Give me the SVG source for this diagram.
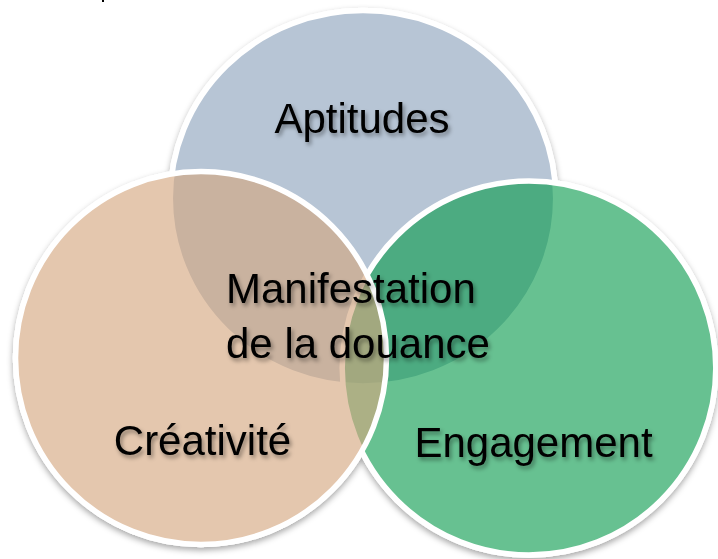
<svg xmlns="http://www.w3.org/2000/svg" xmlns:xlink="http://www.w3.org/1999/xlink" width="718" height="559" viewBox="0 0 718 559">
  <defs>
    <style>
      .ring { stroke: #ffffff; stroke-width: 5.5; }
      .under { fill: #ffffff; stroke: #ffffff; stroke-width: 5.5; }
      .top { fill: #b7c5d5; }
      .right { fill: rgb(10,155,78); fill-opacity: 0.62; }
      .left { fill: rgb(212,166,126); fill-opacity: 0.63; }
      .lbl { font-family: "Liberation Sans", Arial, sans-serif; font-size: 42px; fill: #000000; filter: url(#txtShadow); }
    </style>
    <filter id="ringShadow" x="-10%" y="-10%" width="120%" height="120%">
      <feDropShadow dx="0" dy="3" stdDeviation="3" flood-color="#000000" flood-opacity="0.35"/>
    </filter>
    <filter id="txtShadow" x="-10%" y="-20%" width="120%" height="160%">
      <feDropShadow dx="2" dy="3" stdDeviation="2" flood-color="#000000" flood-opacity="0.4"/>
    </filter>
  </defs>

  <rect x="0" y="0" width="718" height="559" fill="#ffffff"/>
  <rect x="102" y="0" width="2" height="2" fill="#000000"/>

  <!-- outer shadow of the union of the circles -->
  <g id="shadows" filter="url(#ringShadow)">
    <ellipse class="under" cx="363" cy="198.3" rx="192.7" ry="187.7"/>
    <ellipse class="under" cx="529" cy="368" rx="186.8" ry="187"/>
    <ellipse class="under" cx="201" cy="358" rx="185.5" ry="186.5"/>
  </g>

  <g id="aptitudes">
    <ellipse class="ring top" cx="363" cy="198.3" rx="192.7" ry="187.7"/>
    <text class="lbl" x="362" y="133" text-anchor="middle">Aptitudes</text>
  </g>

  <g id="engagement">
    <ellipse class="ring right" cx="529" cy="368" rx="186.8" ry="187"/>
    <text class="lbl" x="533.5" y="457" text-anchor="middle">Engagement</text>
  </g>

  <g id="creativite">
    <ellipse class="ring left" cx="201" cy="358" rx="185.5" ry="186.5"/>
    <text class="lbl" x="202.5" y="455" text-anchor="middle">Créativité</text>
  </g>

  <g id="connectors"></g>

  <g id="manifestation">
    <text class="lbl" x="226" y="303">Manifestation</text>
    <text class="lbl" x="226" y="358">de la douance</text>
  </g>
</svg>
